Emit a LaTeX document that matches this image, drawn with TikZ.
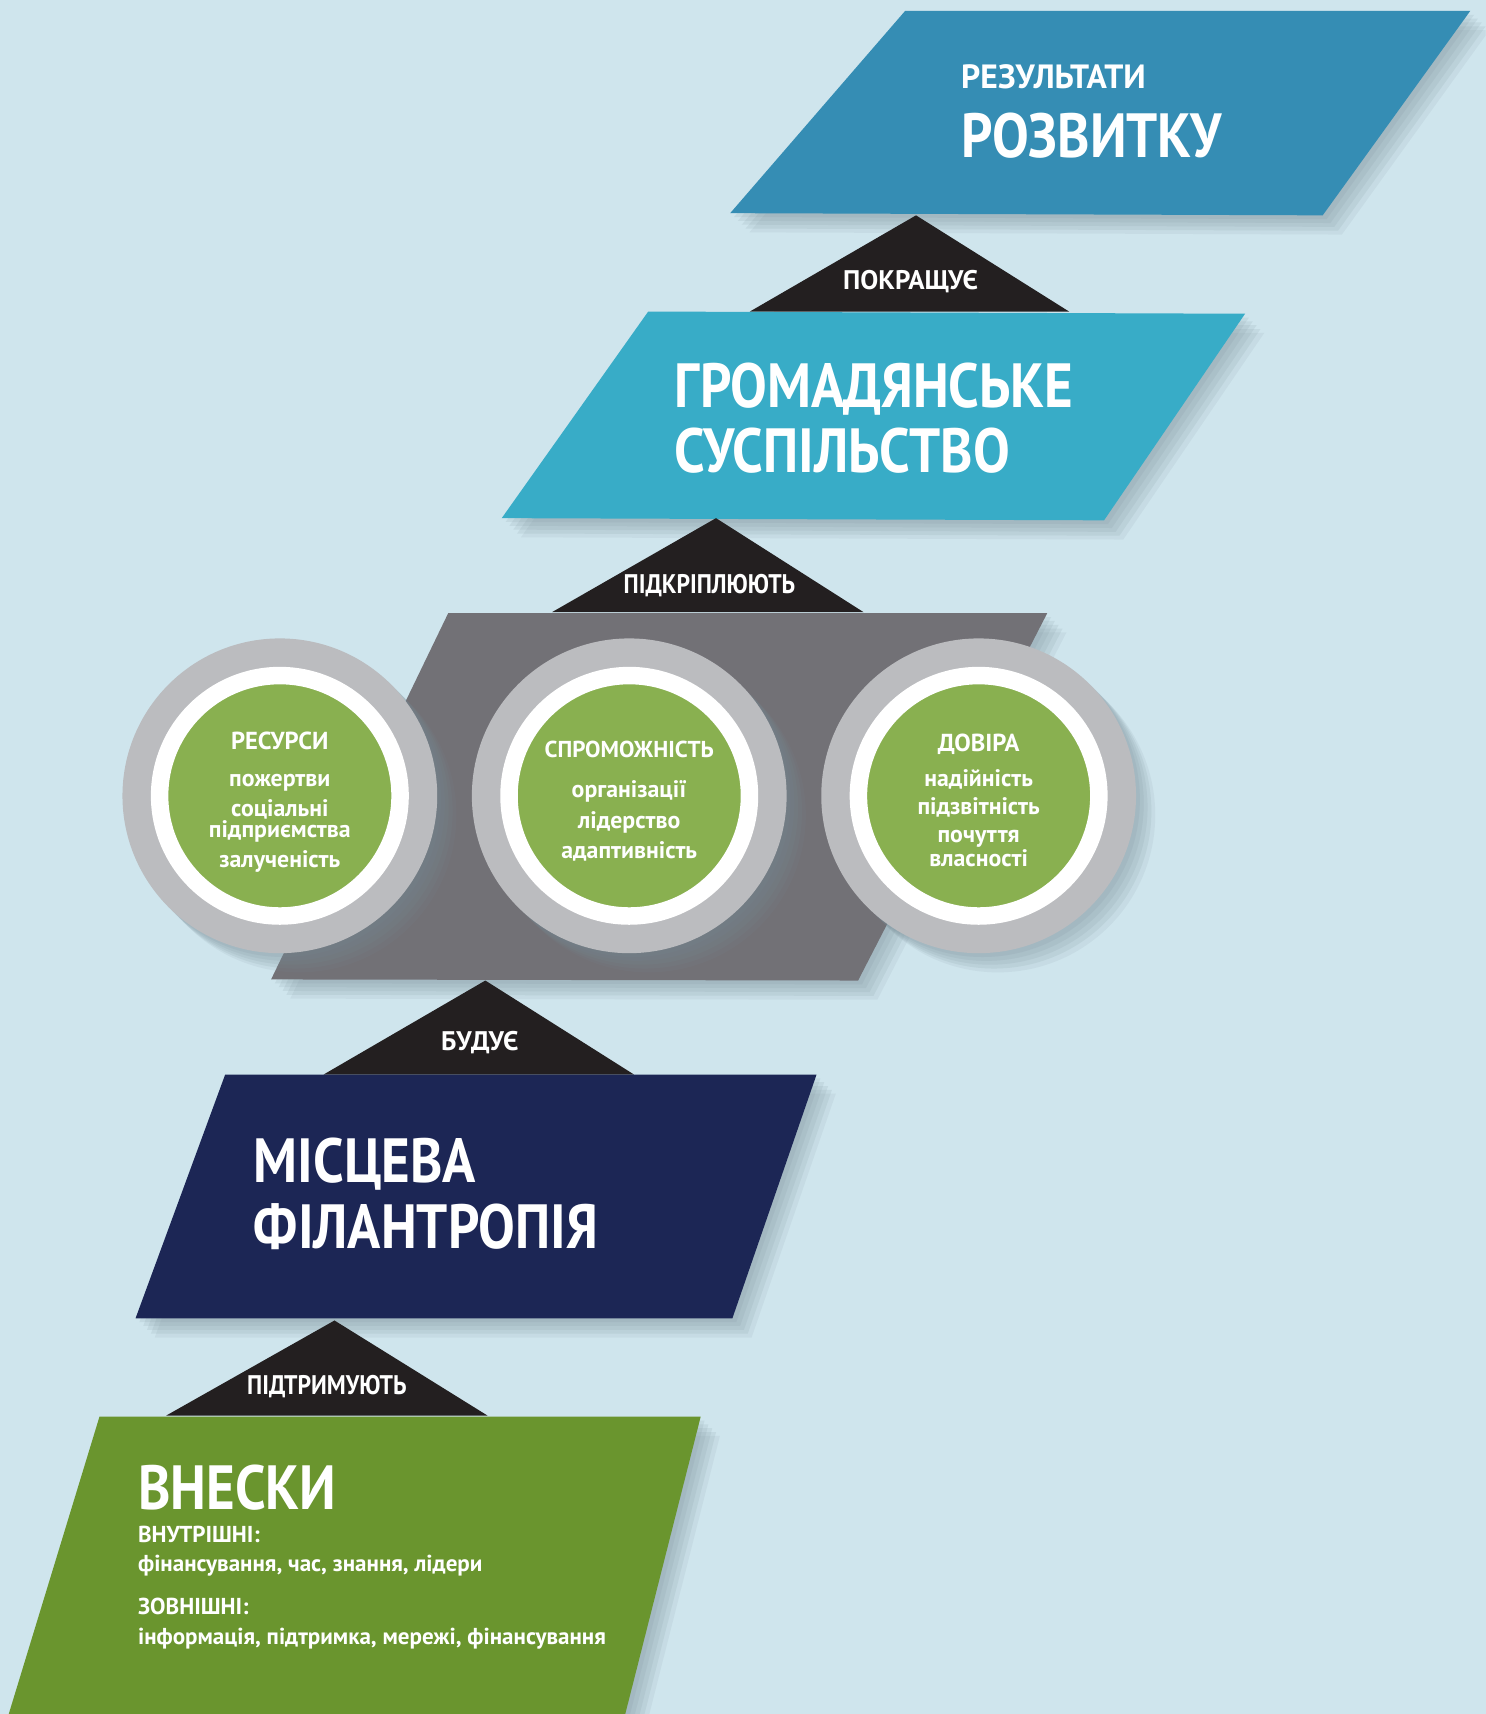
\documentclass[tikz,border=0pt]{standalone}
\usepackage{fontspec}
\setmainfont[FakeStretch=0.88]{PT Sans}
\newfontfamily\plainsans{PT Sans}
\usetikzlibrary{positioning, shadows}

\definecolor{bgblue}{RGB}{207,229,237}
\definecolor{devblue}{RGB}{53,141,180}
\definecolor{civblue}{RGB}{56,172,199}
\definecolor{wedge}{RGB}{35,31,32}
\definecolor{slate}{RGB}{114,113,118}
\definecolor{ringgray}{RGB}{187,188,191}
\definecolor{leaf}{RGB}{137,176,80}
\definecolor{navy}{RGB}{28,38,85}
\definecolor{moss}{RGB}{106,149,46}
\definecolor{shade}{RGB}{120,140,150}

\newcommand{\disctitlefont}{\fontsize{12.8}{13}\selectfont}

\begin{document}
\begin{tikzpicture}[
        x=0.02cm, y=-0.02cm,
        soft/.style={
            drop shadow={shadow xshift=2pt, shadow yshift=-2pt, fill=shade, opacity=.13},
            drop shadow={shadow xshift=4pt, shadow yshift=-4pt, fill=shade, opacity=.13},
            drop shadow={shadow xshift=6pt, shadow yshift=-6pt, fill=shade, opacity=.13},
            drop shadow={shadow xshift=8pt, shadow yshift=-8pt, fill=shade, opacity=.13},
            drop shadow={shadow xshift=10pt, shadow yshift=-10pt, fill=shade, opacity=.1}
        },
        wedgelbl/.style={text=white, inner sep=0, anchor=base, font=\bfseries\fontsize{14}{16}\selectfont},
        widewedgelbl/.style={wedgelbl, font=\plainsans\bfseries\fontsize{14}{16}\selectfont},
        headline/.style={text=white, inner sep=0, anchor=base west, font=\bfseries\fontsize{32.5}{34}\selectfont},
        smallhead/.style={text=white, inner sep=0, anchor=base west, font=\plainsans\bfseries\fontsize{17.5}{20}\selectfont},
        subline/.style={text=white, inner sep=0, anchor=base west, font=\plainsans\bfseries\fontsize{12}{14}\selectfont},
        ring/.style={circle, fill=ringgray, minimum size=5.76cm, inner sep=0, soft},
        disc/.style={circle, fill=leaf, draw=white, line width=0.32cm, minimum size=4.4cm, inner sep=0},
        disctext/.style={text=white, align=center, inner sep=0, font=\plainsans\bfseries\fontsize{12.4}{11}\selectfont}
    ]
    \useasboundingbox (0,0) rectangle (1359,1568);
    \fill[bgblue] (0,0) rectangle (1359,1568);
    \clip (0,0) rectangle (1359,1568);

    \fill[devblue, soft] (828,10) -- (1345,10) -- (1210,197) -- (668,195) -- cycle;
    \node[smallhead] (outcomeA) at (879,81) {РЕЗУЛЬТАТИ};
    \node[headline] (outcomeB) at (879,144) {РОЗВИТКУ};

    \fill[wedge] (838,197) -- (978,285) -- (686,285) -- cycle;
    \node[widewedgelbl] (improves) at (833,265) {ПОКРАЩУЄ};

    \fill[civblue, soft] (593,285) -- (1139,287) -- (1010,476) -- (459,474) -- cycle;
    \node[headline] (civilA) at (617,373) {ГРОМАДЯНСЬКЕ};
    \node[headline] (civilB) at (617,432) {СУСПІЛЬСТВО};

    \fill[wedge] (655,474) -- (790,560) -- (505,560) -- cycle;
    \node[wedgelbl] (reinforce) at (649,543) {ПІДКРІПЛЮЮТЬ};

    \fill[slate, soft] (410,561) -- (958,561) -- (785,897) -- (248,896) -- cycle;

    \node[ring] (res) at (256,728) {};
    \node[ring, right=0.62cm of res] (cap) {};
    \node[ring, right=0.62cm of cap] (trust) {};
    \node[disc] (resIn) at (res) {};
    \node[disc] (capIn) at (cap) {};
    \node[disc] (trustIn) at (trust) {};
    \node[disctext] (resTxt) at ([yshift=-0.12cm]res) {{\disctitlefont РЕСУРСИ}\\[8pt]
        пожертви\\[3.5pt] соціальні\\ підприємства\\[3.5pt] залученість};
    \node[disctext] (capTxt) at ([yshift=-0.1cm]cap) {{\fontsize{12}{13}\selectfont СПРОМОЖНІСТЬ}\\[10pt]
        організації\\[3.5pt] лідерство\\[3.5pt] адаптивність};
    \node[disctext] (trustTxt) at ([yshift=-0.08cm]trust) {{\disctitlefont ДОВІРА}\\[7.5pt]
        надійність\\[3.5pt] підзвітність\\[3.5pt] почуття\\ власності};

    \fill[wedge] (444,897) -- (580,983) -- (296,983) -- cycle;
    \node[widewedgelbl] (builds) at (439,961) {БУДУЄ};

    \fill[navy, soft] (206,983) -- (747,983) -- (670,1206) -- (124,1206) -- cycle;
    \node[headline] (localA) at (232,1082) {МІСЦЕВА};
    \node[headline] (localB) at (232,1142) {ФІЛАНТРОПІЯ};

    \fill[wedge] (306,1208) -- (446,1295) -- (152,1295) -- cycle;
    \node[wedgelbl] (supports) at (299,1276) {ПІДТРИМУЮТЬ};

    \fill[moss, soft] (91,1296) -- (641,1296) -- (572,1568) -- (8,1568) -- cycle;
    \node[headline] (inputs) at (126,1381) {ВНЕСКИ};
    \node[subline] (inner) at (126,1411) {ВНУТРІШНІ:};
    \node[subline] (innerList) at (126,1438) {фінансування, час, знання, лідери};
    \node[subline] (outer) at (126,1477) {ЗОВНІШНІ:};
    \node[subline] (outerList) at (126,1504) {інформація, підтримка, мережі, фінансування};
\end{tikzpicture}
\end{document}
